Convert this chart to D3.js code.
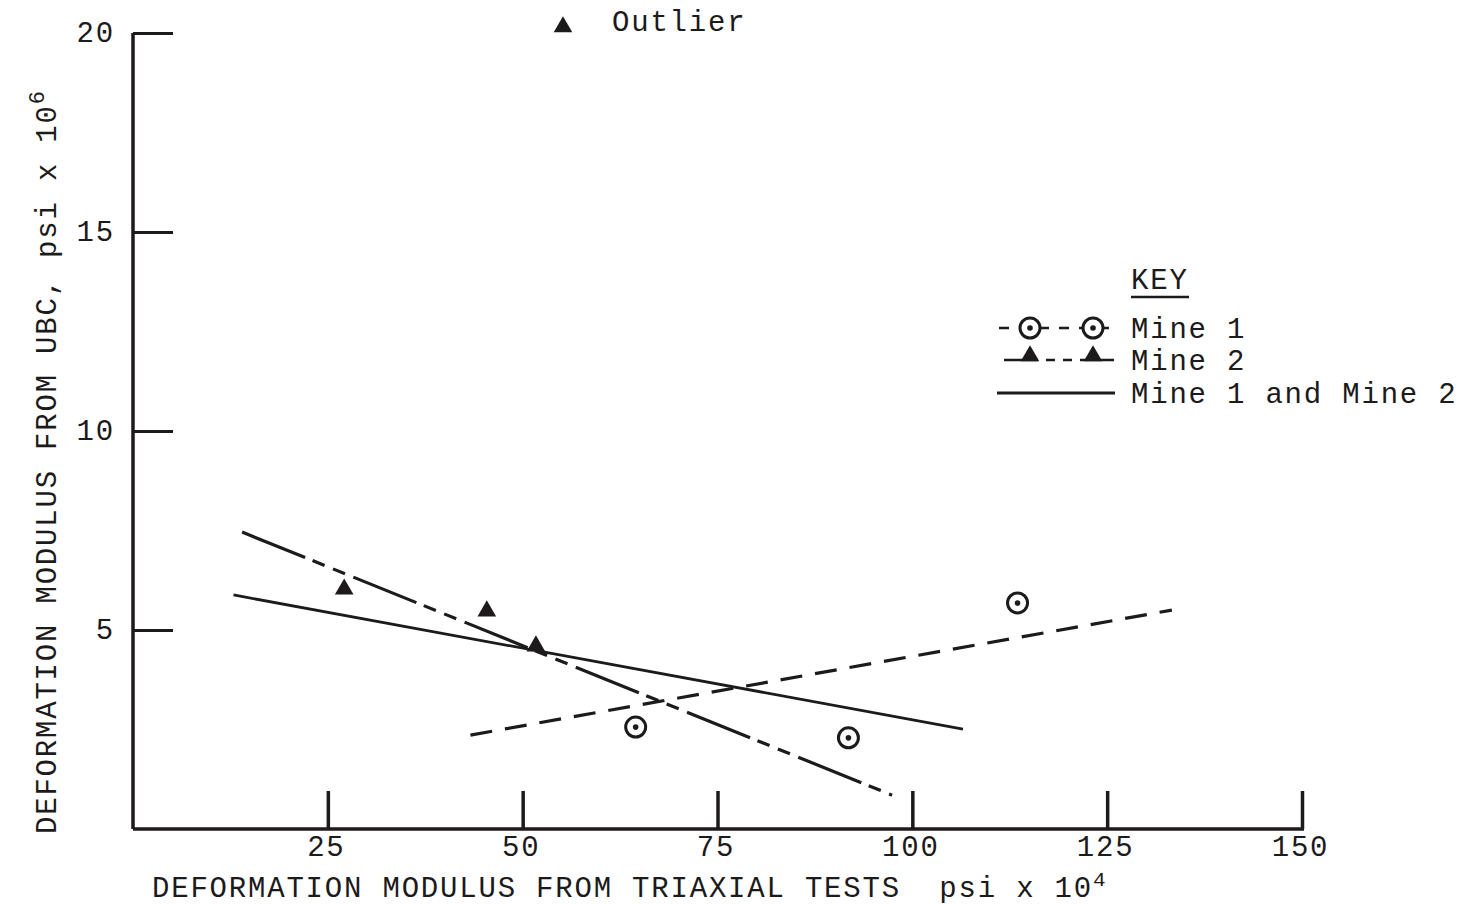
<!DOCTYPE html>
<html>
<head>
<meta charset="utf-8">
<script src="https://cdn.jsdelivr.net/npm/d3@7"></script>
<style>
html,body{margin:0;padding:0;background:#fff;}
svg text{font-family:"Liberation Mono","Courier New",monospace;fill:#1c1a1a;}
</style>
</head>
<body>
<svg id="chart" width="1466" height="905"></svg>
<script>
// ---- data ----
const xTicks = [25, 50, 75, 100, 125, 150];
const yTicks = [5, 10, 15, 20];
const mine1X = [64.5, 91.8, 113.5];
const mine1Y = [2.56, 2.29, 5.68];
const mine2X = [27.1, 45.4, 51.7];
const mine2Y = [6.0, 5.45, 4.57];
const mine1FitX = [43.3, 133.3];
const mine1FitY = [2.36, 5.5];
const mine2FitX = [14.0, 97.4];
const mine2FitY = [7.46, 0.85];
const bothFitX = [12.9, 106.5];
const bothFitY = [5.88, 2.51];
const legendLabels = ["Mine 1", "Mine 2", "Mine 1 and Mine 2"];

const ink = "#1c1a1a";
const svg = d3.select("#chart");
const x = d3.scaleLinear().domain([0, 150]).range([133, 1302]);
const y = d3.scaleLinear().domain([0, 20]).range([829, 33]);
const fontSize = 29, ls = 1.8;

// axes lines
svg.append("line").attr("x1", x(0)).attr("x2", x(0)).attr("y1", y(20)).attr("y2", y(0))
  .attr("stroke", ink).attr("stroke-width", 3.5);
svg.append("line").attr("x1", x(0)).attr("x2", x(150) + 2).attr("y1", y(0)).attr("y2", y(0))
  .attr("stroke", ink).attr("stroke-width", 3.5);

// x axis ticks (drawn upward) via d3 axis
const xAxis = svg.append("g").attr("transform", `translate(0,${y(0)})`)
  .call(d3.axisBottom(x).tickValues(xTicks).tickSize(-38).tickPadding(0).tickFormat(""));
xAxis.select(".domain").remove();
xAxis.selectAll(".tick line").attr("stroke", ink).attr("stroke-width", 3.5);
xAxis.selectAll(".tick").append("text")
  .attr("y", 27).attr("text-anchor", "middle")
  .style("font-size", fontSize + "px").style("letter-spacing", ls + "px")
  .attr("dx", -2)
  .text(d => d);

// y axis ticks (drawn to the right)
const yAxis = svg.append("g").attr("transform", `translate(${x(0)},0)`)
  .call(d3.axisLeft(y).tickValues(yTicks).tickSize(-40).tickFormat(""));
yAxis.select(".domain").remove();
yAxis.selectAll(".tick line").attr("stroke", ink).attr("stroke-width", 3.2);
yAxis.selectAll(".tick").append("text")
  .attr("x", -18).attr("dy", "0.3em").attr("text-anchor", "end")
  .style("font-size", fontSize + "px").style("letter-spacing", ls + "px")
  .text(d => d);

// axis titles
const xt = svg.append("text").attr("x", 152).attr("y", 897)
  .style("font-size", fontSize + "px").style("letter-spacing", ls + "px");
xt.append("tspan").text("DEFORMATION MODULUS FROM TRIAXIAL TESTS\u00a0\u00a0psi x 10");
xt.append("tspan").attr("dy", -11).style("font-size", "21px").text("4");

const yt = svg.append("text").attr("transform", "translate(56,834) rotate(-90)")
  .style("font-size", fontSize + "px").style("letter-spacing", ls + "px");
yt.append("tspan").text("DEFORMATION MODULUS FROM UBC, psi x 10");
yt.append("tspan").attr("dy", -12).style("font-size", "22px").text("6");

// fit lines
const line = d3.line().x(d => x(d[0])).y(d => y(d[1]));
svg.append("path").datum(d3.zip(mine1FitX, mine1FitY)).attr("d", line)
  .attr("fill", "none").attr("stroke", ink).attr("stroke-width", 3.2)
  .attr("stroke-dasharray", "22,13");
svg.append("path").datum(d3.zip(mine2FitX, mine2FitY)).attr("d", line)
  .attr("fill", "none").attr("stroke", ink).attr("stroke-width", 3.2)
  .attr("stroke-dasharray", "68,8,13,9,13,9");
svg.append("path").datum(d3.zip(bothFitX, bothFitY)).attr("d", line)
  .attr("fill", "none").attr("stroke", ink).attr("stroke-width", 2.8);

// markers
const tri = d3.symbol().type(d3.symbolTriangle).size(150);
function circ(g, cx, cy) {
  g.append("circle").attr("cx", cx).attr("cy", cy).attr("r", 10)
    .attr("fill", "#fff").attr("stroke", ink).attr("stroke-width", 3);
  g.append("circle").attr("cx", cx).attr("cy", cy).attr("r", 2.8).attr("fill", ink);
}
const m1 = svg.append("g");
d3.zip(mine1X, mine1Y).forEach(d => circ(m1, x(d[0]), y(d[1])));
svg.append("g").selectAll("path").data(d3.zip(mine2X, mine2Y)).join("path")
  .attr("d", tri).attr("fill", ink)
  .attr("transform", d => `translate(${x(d[0])},${y(d[1]) - 1})`);

// outlier annotation
svg.append("path").attr("d", tri).attr("fill", ink).attr("transform", "translate(563,27)");
svg.append("text").attr("x", 612).attr("y", 31)
  .style("font-size", fontSize + "px").style("letter-spacing", ls + "px").text("Outlier");

// key
svg.append("text").attr("x", 1131).attr("y", 289)
  .style("font-size", fontSize + "px").style("letter-spacing", ls + "px").text("KEY");
svg.append("line").attr("x1", 1131).attr("x2", 1189).attr("y1", 297).attr("y2", 297)
  .attr("stroke", ink).attr("stroke-width", 2.6);

const legY = [328, 360, 393];
svg.append("line").attr("x1", 999).attr("x2", 1118).attr("y1", legY[0]).attr("y2", legY[0])
  .attr("stroke", ink).attr("stroke-width", 2.6).attr("stroke-dasharray", "10,10");
circ(svg, 1030, legY[0]);
circ(svg, 1093, legY[0]);
svg.append("line").attr("x1", 1004).attr("x2", 1120).attr("y1", legY[1]).attr("y2", legY[1])
  .attr("stroke", ink).attr("stroke-width", 2.6).attr("stroke-dasharray", "34,8,9,8,9,8");
[1030, 1093].forEach(cx => svg.append("path").attr("d", tri).attr("fill", ink)
  .attr("transform", `translate(${cx},${legY[1] - 4})`));
svg.append("line").attr("x1", 997).attr("x2", 1115).attr("y1", legY[2]).attr("y2", legY[2])
  .attr("stroke", ink).attr("stroke-width", 2.8);
legendLabels.forEach((t, i) => svg.append("text").attr("x", 1131).attr("y", legY[i] + 10)
  .style("font-size", fontSize + "px").style("letter-spacing", ls + "px").text(t));
</script>
</body>
</html>
